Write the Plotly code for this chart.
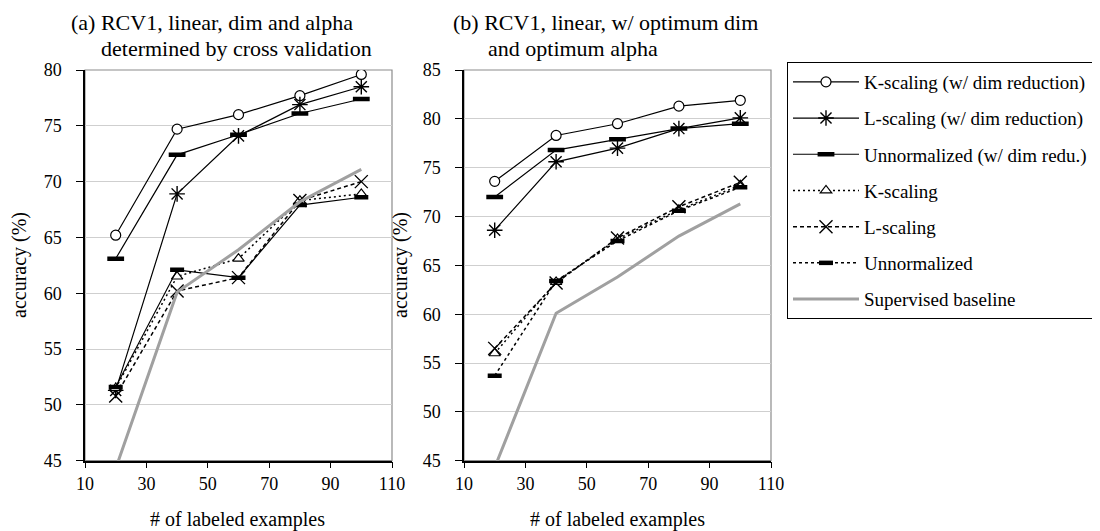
import plotly.graph_objects as go

x_vals = [20, 40, 60, 80, 100]

# Panel (a): dim and alpha determined by cross validation
a_k_dim = [65.2, 74.7, 76.0, 77.7, 79.6]
a_l_dim = [51.3, 68.9, 74.1, 76.9, 78.5]
a_u_dim = [63.1, 72.4, 74.2, 76.1, 77.4]
a_k = [51.5, 61.5, 63.1, 68.3, 68.9]
a_l = [50.8, 60.2, 61.4, 68.3, 70.0]
a_u = [51.6, 62.1, 61.4, 67.9, 68.6]
a_base = [44.3, 60.1, 63.9, 68.2, 71.1]

# Panel (b): optimum dim and optimum alpha
b_k_dim = [73.6, 78.3, 79.5, 81.3, 81.9]
b_l_dim = [68.6, 75.6, 77.0, 79.0, 80.1]
b_u_dim = [72.0, 76.8, 77.9, 79.0, 79.5]
b_k = [56.0, 63.3, 67.7, 70.7, 73.2]
b_l = [56.5, 63.2, 67.8, 71.0, 73.5]
b_u = [53.7, 63.4, 67.5, 70.6, 73.0]
b_base = [44.3, 60.1, 63.8, 68.0, 71.3]

names = ["K-scaling (w/ dim reduction)", "L-scaling (w/ dim reduction)",
         "Unnormalized (w/ dim redu.)", "K-scaling", "L-scaling",
         "Unnormalized", "Supervised baseline"]

x_ticks = [10, 30, 50, 70, 90, 110]

FONT = "Liberation Serif"
styles = [
    dict(line=dict(color="black", width=1.2, dash="solid"),
         marker=dict(symbol="circle", size=10, color="white", line=dict(color="black", width=1.2)), mode="lines+markers"),
    dict(line=dict(color="black", width=1.2, dash="solid"),
         marker=dict(symbol="asterisk-open", size=13, color="black", line=dict(color="black", width=1.4)), mode="lines+markers"),
    dict(line=dict(color="black", width=1.2, dash="solid"),
         marker=dict(symbol="line-ew-open", size=12, color="black", line=dict(color="black", width=4.5)), mode="lines+markers"),
    dict(line=dict(color="black", width=1.5, dash="2px,3px"),
         marker=dict(symbol="triangle-up", size=10, color="white", line=dict(color="black", width=1.2)), mode="lines+markers"),
    dict(line=dict(color="black", width=1.5, dash="4px,3px"),
         marker=dict(symbol="x-thin-open", size=13, color="black", line=dict(color="black", width=1.4)), mode="lines+markers"),
    dict(line=dict(color="black", width=1.5, dash="3px,3px"),
         marker=dict(symbol="line-ew-open", size=10, color="black", line=dict(color="black", width=4.5)), mode="lines+markers"),
    dict(line=dict(color="#a0a0a0", width=3, dash="solid"), mode="lines"),
]

fig = go.Figure()

a_series = [a_k_dim, a_l_dim, a_u_dim, a_k, a_l, a_u, a_base]
b_series = [b_k_dim, b_l_dim, b_u_dim, b_k, b_l, b_u, b_base]

for i, (ys, nm) in enumerate(zip(a_series, names)):
    st = dict(styles[i])
    if i == 5:
        st["line"] = dict(color="black", width=1.2, dash="solid")
    fig.add_trace(go.Scatter(x=x_vals, y=ys, name=nm, xaxis="x", yaxis="y",
                             showlegend=False, legendgroup=f"g{i}", **st))
for i, (ys, nm) in enumerate(zip(b_series, names)):
    fig.add_trace(go.Scatter(x=x_vals, y=ys, name=nm, xaxis="x2", yaxis="y2",
                             showlegend=True, legendgroup=f"g{i}", **styles[i]))

W, H = 1100, 531
top_px, bot_px = 62, 452.7
ydom = [1 - bot_px / H, 1 - top_px / H]
xdom1 = [77 / W, 384 / W]
xdom2 = [456 / W, 763 / W]

axis_common = dict(showline=True, linecolor="black", linewidth=1.5, ticks="outside",
                   tickcolor="black", tickwidth=1.2,
                   tickfont=dict(family=FONT, size=18, color="black"), zeroline=False)

fig.update_layout(
    width=W, height=H, margin=dict(l=0, r=0, t=0, b=0, autoexpand=False),
    paper_bgcolor="white", plot_bgcolor="white",
    font=dict(family=FONT, size=18, color="black"),
    xaxis=dict(domain=xdom1, range=[10, 110], tickvals=x_ticks, showgrid=False, ticklen=6,
               anchor="y", ticklabelstandoff=0, **axis_common),
    yaxis=dict(domain=ydom, range=[45, 80], dtick=5, tick0=45, showgrid=True, ticklen=7,
               gridcolor="#cfcfcf", gridwidth=1, anchor="x", ticklabelstandoff=11, **axis_common),
    xaxis2=dict(domain=xdom2, range=[10, 110], tickvals=x_ticks, showgrid=False, ticklen=6,
                anchor="y2", ticklabelstandoff=0, **axis_common),
    yaxis2=dict(domain=ydom, range=[45, 85], dtick=5, tick0=45, showgrid=True, ticklen=7,
                gridcolor="#cfcfcf", gridwidth=1, anchor="x2", ticklabelstandoff=11, **axis_common),
    legend=dict(x=779 / W, y=1 - 54 / H, xanchor="left", yanchor="top",
                bordercolor="black", borderwidth=1, bgcolor="white",
                font=dict(family=FONT, size=19, color="black"),
                itemwidth=66, tracegroupgap=8.5, traceorder="grouped"),
    showlegend=True,
)

# plot-area frames (gray border)
for xr, yr in (("x domain", "y domain"), ("x2 domain", "y2 domain")):
    fig.add_shape(type="rect", xref=xr, yref=yr, x0=0, x1=1, y0=0, y1=1,
                  line=dict(color="#8c8c8c", width=1.2), layer="below")

def ann(text, x, y, **kw):
    fig.add_annotation(text=text, x=x / W, y=1 - y / H, xref="paper", yref="paper",
                       showarrow=False, font=dict(family=FONT, size=kw.pop("size", 22), color="black"), **kw)

ann("(a) RCV1, linear, dim and alpha", 61, 14, xanchor="left", yanchor="middle")
ann("determined by cross validation", 91, 40, xanchor="left", yanchor="middle")
ann("(b) RCV1, linear, w/ optimum dim", 443, 14, xanchor="left", yanchor="middle")
ann("and optimum alpha", 478, 40, xanchor="left", yanchor="middle")

ann("# of labeled examples", 230, 511, size=20, xanchor="center", yanchor="middle")
ann("# of labeled examples", 609, 511, size=20, xanchor="center", yanchor="middle")
ann("accuracy (%)", 12, 257, size=20, xanchor="center", yanchor="middle", textangle=-90)
ann("accuracy (%)", 393, 257, size=20, xanchor="center", yanchor="middle", textangle=-90)

fig.write_html("out.html")
